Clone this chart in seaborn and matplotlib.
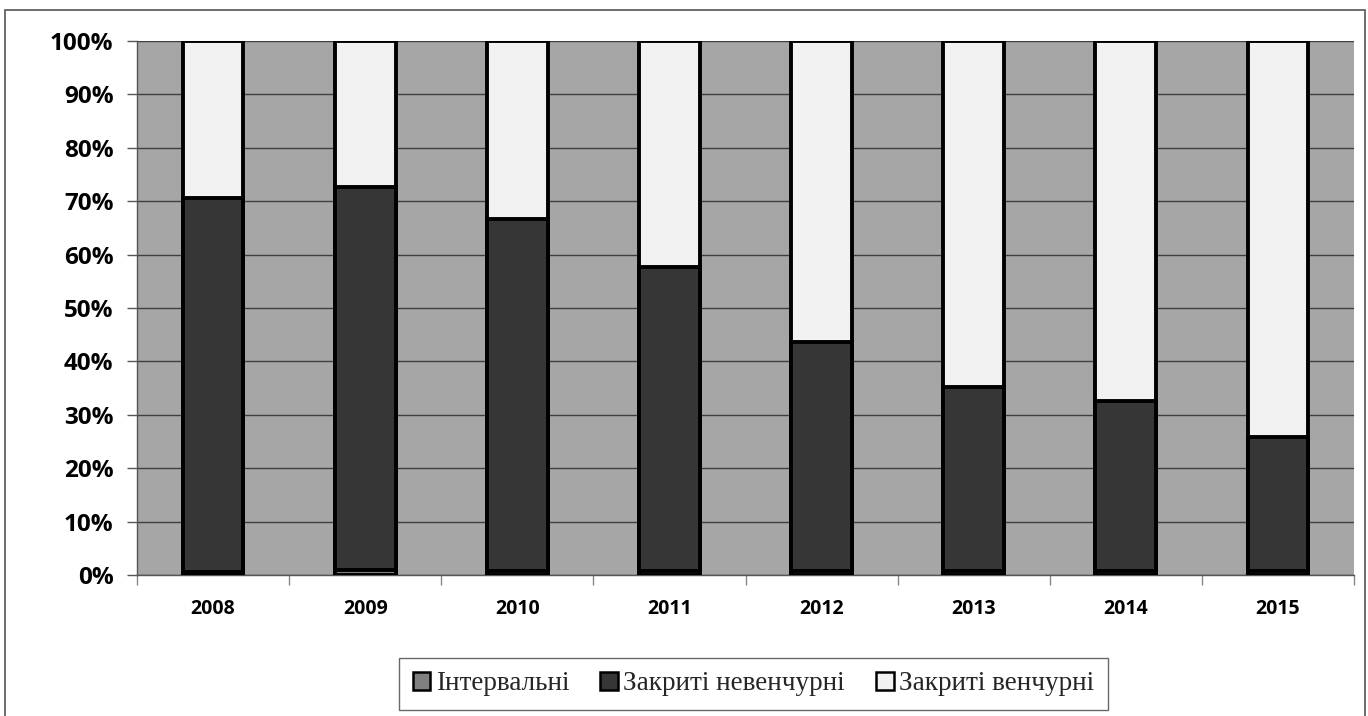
import matplotlib
matplotlib.use("Agg")
import matplotlib.pyplot as plt
from matplotlib.patches import Rectangle, Patch
from matplotlib.ticker import PercentFormatter, FixedLocator
import seaborn as sns
import pandas as pd
import numpy as np

# Shares of fund types by year, percent
years = ["2008", "2009", "2010", "2011", "2012", "2013", "2014", "2015"]
interval = [0.5, 1.0, 0.8, 0.8, 0.7, 0.7, 0.7, 0.7]
closed_nonventure = [70.1, 71.7, 65.9, 56.9, 43.0, 34.5, 31.8, 25.1]
closed_venture = [29.4, 27.3, 33.3, 42.3, 56.3, 64.8, 67.5, 74.2]
series_names = ["Інтервальні", "Закриті невенчурні", "Закриті венчурні"]

colors = {"Інтервальні": "#808080",
          "Закриті невенчурні": "#363636",
          "Закриті венчурні": "#F2F2F2"}

sns.set_theme(style="white")
plt.rcParams["font.family"] = ["Open Sans", "DejaVu Sans"]
plt.rcParams["font.weight"] = "bold"

df = pd.DataFrame({"year": years,
                   "Інтервальні": interval,
                   "Закриті невенчурні": closed_nonventure,
                   "Закриті венчурні": closed_venture})
cum = df[series_names].cumsum(axis=1)

fig = plt.figure(figsize=(13.68, 7.16), dpi=100)
ax = fig.add_axes([137 / 1368, 1 - 575 / 716, (1354 - 137) / 1368, (575 - 41) / 716])
ax.set_facecolor("#A6A6A6")

# stacked bars: draw the tallest cumulative layer first
for name in reversed(series_names):
    sns.barplot(x=df["year"], y=cum[name], color=colors[name], width=0.4,
                edgecolor="black", linewidth=2.8, saturation=1, ax=ax, zorder=3)

ax.set_ylim(0, 100)
ax.set_xlim(-0.5, len(years) - 0.5)
ax.set_yticks(np.arange(0, 101, 10))
ax.yaxis.set_major_formatter(PercentFormatter(decimals=0))
ax.set_xlabel("")
ax.set_ylabel("")

ax.grid(axis="y", color="#3F3F3F", linewidth=1.0, zorder=0)
ax.set_axisbelow(True)

for side in ["top", "right"]:
    ax.spines[side].set_visible(False)
for side in ["left", "bottom"]:
    ax.spines[side].set_color("#555555")
    ax.spines[side].set_linewidth(1.0)

ax.tick_params(axis="y", which="major", direction="out", length=7, width=1,
               color="#555555", pad=10, left=True, labelsize=17.5, labelcolor="black")
ax.tick_params(axis="x", which="major", length=0, pad=17, labelsize=14, labelcolor="black")
ax.xaxis.set_minor_locator(FixedLocator(np.arange(-0.5, len(years), 1.0)))
ax.tick_params(axis="x", which="minor", direction="out", length=7, width=1,
               color="#888888", bottom=True)

handles = [Patch(facecolor=colors[n], edgecolor="black", linewidth=1.8) for n in series_names]
leg = fig.legend(handles, series_names, loc="center", bbox_to_anchor=(753.5 / 1368, 1 - 684 / 716),
                 ncol=3, frameon=True, fancybox=False, handlelength=0.65, handleheight=0.65,
                 handletextpad=0.2, columnspacing=1.15, borderpad=0.5,
                 prop={"family": "Liberation Serif", "size": 19.5, "weight": "normal"})
leg.get_frame().set_edgecolor("#444444")
leg.get_frame().set_linewidth(1.0)

# outer chart frame
fig.patches.append(Rectangle((5 / 1368, -0.02), 1360 / 1368, 0.986 + 0.02,
                             transform=fig.transFigure, fill=False,
                             edgecolor="#555555", linewidth=1.2))

fig.savefig("out.png", dpi=100)
